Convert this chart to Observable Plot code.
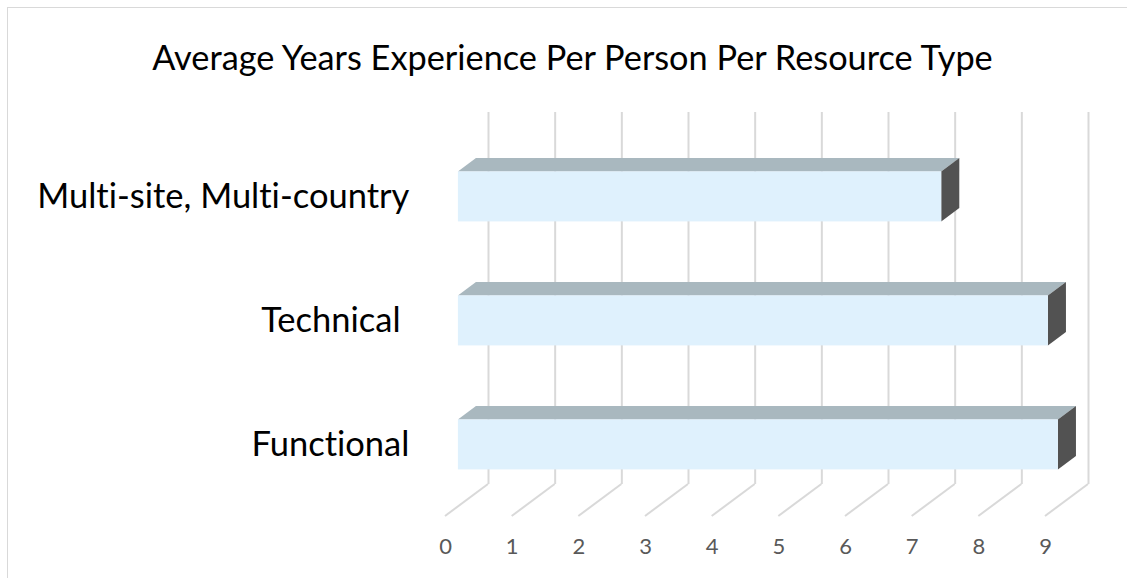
<!DOCTYPE html>
<html>
<head>
<meta charset="utf-8">
<script src="https://cdn.jsdelivr.net/npm/d3@7"></script>
<script src="https://cdn.jsdelivr.net/npm/@observablehq/plot@0.6"></script>
<style>
  html, body { margin: 0; padding: 0; background: #fff; overflow: hidden; }
  #wrap { position: relative; width: 1127px; height: 578px; overflow: hidden; font-family: Lato, "Open Sans", sans-serif; font-variant-ligatures: none; font-feature-settings: "liga" 0; }
  #border { position: absolute; left: 7px; top: 7px; width: 1400px; height: 900px; border: 1px solid #d9d9d9; box-sizing: border-box; }
  #title { position: absolute; left: 0; top: 37px; width: 1145px; text-align: center; font-size: 34.3px; color: #000; line-height: 40px; white-space: nowrap; }
  #chart { position: absolute; left: 0; top: 0; }
  #chart svg text { font-variant-ligatures: none; font-feature-settings: "liga" 0; }
</style>
</head>
<body>
<div id="wrap">
  <div id="border"></div>
  <div id="title"></div>
  <div id="chart"></div>
</div>
<script>
const titleText = "Average Years Experience Per Person Per Resource Type";
const categories = ["Multi-site, Multi-country", "Technical ", "Functional"];
const values = [7.25, 8.85, 9.0];
const ticks = [0, 1, 2, 3, 4, 5, 6, 7, 8, 9];

const data = categories.map((c, i) => ({category: c, value: values[i]}));

// oblique projection of the floor depth (pixels) and where the bars sit in depth
const depthDx = -43, depthDy = 32;
const barFrontF = 0.70, barBackF = 0.28;
const fdx = depthDx * barFrontF, fdy = depthDy * barFrontF;
const bdx = depthDx * barBackF, bdy = depthDy * barBackF;

document.getElementById("title").textContent = titleText;

const W = 1127, H = 578;

const plot = Plot.plot({
  width: W,
  height: H,
  marginLeft: 488,
  marginRight: 39,
  marginTop: 112,
  marginBottom: 94,
  style: {fontFamily: "Lato, 'Open Sans', sans-serif", background: "transparent", overflow: "visible"},
  x: {domain: [0, 9], axis: null},
  y: {domain: categories, paddingInner: 0.597, paddingOuter: 0.2985, axis: null},
  marks: [
    // back wall gridlines
    Plot.ruleX(ticks, {x: d => d, stroke: "#d9d9d9", strokeWidth: 2}),
    // floor depth lines
    Plot.ruleX(ticks, {
      x: d => d,
      stroke: "#d9d9d9",
      strokeWidth: 2,
      render(index, scales, vals, dim) {
        const g = d3.create("svg:g").attr("stroke", "#d9d9d9").attr("stroke-width", 2).attr("fill", "none");
        const yb = dim.height - dim.marginBottom;
        for (const i of index) {
          const x = vals.x[i];
          g.append("line").attr("x1", x).attr("y1", yb).attr("x2", x + depthDx).attr("y2", yb + depthDy);
        }
        return g.node();
      }
    }),
    // 3D bars
    Plot.barX(data, {
      x: "value",
      y: "category",
      render(index, scales, vals) {
        const bw = scales.y.bandwidth();
        const g = d3.create("svg:g");
        for (const i of index) {
          const x0 = vals.x1[i], x1 = vals.x2[i];
          const yt = vals.y[i], yb = yt + bw;
          // top face
          g.append("polygon")
            .attr("points", [[x0 + fdx, yt + fdy], [x0 + bdx, yt + bdy], [x1 + bdx, yt + bdy], [x1 + fdx, yt + fdy]].join(" "))
            .attr("fill", "#a9b8bf");
          // right side face
          g.append("polygon")
            .attr("points", [[x1 + fdx, yt + fdy], [x1 + bdx, yt + bdy], [x1 + bdx, yb + bdy], [x1 + fdx, yb + fdy]].join(" "))
            .attr("fill", "#525252");
          // front face
          g.append("rect")
            .attr("x", x0 + fdx).attr("y", yt + fdy)
            .attr("width", x1 - x0).attr("height", bw)
            .attr("fill", "#dff1fd");
        }
        return g.node();
      }
    }),
    Plot.axisX(ticks, {
      tickSize: 0,
      tickPadding: 0,
      dx: depthDx,
      dy: 54,
      fontSize: 22,
      fill: "#595959",
      label: null,
      tickFormat: d => String(d)
    }),
    Plot.axisY({
      tickSize: 0,
      tickPadding: 49,
      dx: fdx,
      dy: fdy,
      fontSize: 34.5,
      fill: "#000",
      label: null,
      tickFormat: d => d
    })
  ]
});

document.getElementById("chart").appendChild(plot);
</script>
</body>
</html>
